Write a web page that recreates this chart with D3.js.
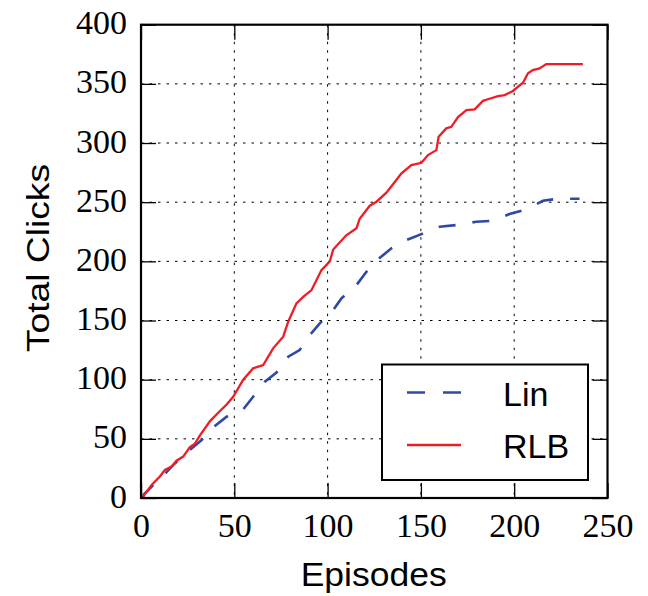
<!DOCTYPE html>
<html>
<head>
<meta charset="utf-8">
<script src="https://cdn.jsdelivr.net/npm/d3@7"></script>
<style>
  body { margin: 0; background: #fff; }
  .grid line { stroke: #000; stroke-width: 1; stroke-dasharray: 2.5,6; }
</style>
</head>
<body>
<div id="chart"></div>
<script>
var rlbEpisodes = [1, 1.5, 5.7, 10, 12.8, 16.4, 19, 22.6, 26.2, 28.9, 31.6, 37, 42.3, 45.9, 49.4, 54.8, 60.1, 65.5, 70.8, 76.2, 78.9, 83.3, 86.9, 91.4, 96.7, 101.2, 103, 110, 115.5, 117.2, 122.6, 126.2, 131.5, 136, 139.6, 144.9, 150.3, 153.8, 158.3, 159.5, 163.6, 166.3, 169.9, 174.4, 178.8, 183.3, 185.9, 191.3, 194.9, 199.3, 204.7, 207.4, 210, 213.6, 217.2, 236.8];
var rlbClicks   = [0, 2, 11, 18, 23.7, 26.5, 31.5, 35, 43, 46, 53, 65, 73.5, 79, 85.6, 100, 109.6, 112.4, 126.5, 136.3, 149, 164.5, 170, 175.7, 192.6, 200, 210, 222, 228, 236, 247, 250.4, 258, 267, 274.4, 281.4, 283.3, 289.8, 294, 305.3, 312.4, 313.7, 322, 327.8, 328.4, 335.7, 337, 339.7, 340.5, 344, 351, 359, 361.6, 363, 366.7, 366.7];

var linEpisodes = [1, 1.5, 6, 13.8, 17.3, 26.2, 32.5, 39.6, 45.9, 54.8, 60.1, 66.4, 72.6, 78.9, 85, 90.5, 95.8, 103, 107.4, 115.5, 120.8, 128, 134.2, 142.2, 150.3, 160, 169, 179.7, 188.6, 197.5, 206.5, 215.4, 223.4, 235];
var linClicks   = [0, 3, 10, 22, 28, 40.6, 49, 60.8, 68.7, 75, 85.6, 98.3, 106, 119.4, 125, 137.7, 147.6, 158.8, 168.7, 180, 191.2, 203, 211, 218, 223, 229.2, 230.7, 233.5, 234.3, 240, 244, 251.2, 252.9, 252.9];

var xTicks = [0, 50, 100, 150, 200, 250];
var yTicks = [0, 50, 100, 150, 200, 250, 300, 350, 400];
var seriesNames = ['Lin', 'RLB'];

var W = 648, H = 596,
    margin = {top: 24.7, right: 40.5, bottom: 98, left: 141},
    width = W - margin.left - margin.right,
    height = H - margin.top - margin.bottom;

var serif = '"Liberation Serif", "Times New Roman", serif',
    sans = '"Liberation Sans", Arial, sans-serif';

var svg = d3.select('#chart').append('svg')
    .attr('width', W).attr('height', H);

var g = svg.append('g')
    .attr('transform', 'translate(' + margin.left + ',' + margin.top + ')');

var x = d3.scaleLinear().domain([0, 250]).range([0, width]),
    y = d3.scaleLinear().domain([0, 400]).range([height, 0]);

// grid
g.append('g').attr('class', 'grid')
    .selectAll('line').data(xTicks.slice(1, -1)).enter().append('line')
    .attr('x1', x).attr('x2', x).attr('y1', 0).attr('y2', height);
g.append('g').attr('class', 'grid')
    .selectAll('line').data(yTicks.slice(1, -1)).enter().append('line')
    .attr('y1', y).attr('y2', y).attr('x1', 0).attr('x2', width);

// curves
var line = d3.line()
    .x(function (d) { return x(d[0]); })
    .y(function (d) { return y(d[1]); });

var linData = linEpisodes.map(function (e, i) { return [e, linClicks[i]]; }),
    rlbData = rlbEpisodes.map(function (e, i) { return [e, rlbClicks[i]]; });

g.append('path').datum(linData)
    .attr('d', line)
    .attr('fill', 'none')
    .attr('stroke', '#2f48a8')
    .attr('stroke-width', 2.6)
    .attr('stroke-dasharray', '17,17');

g.append('path').datum(rlbData)
    .attr('d', line)
    .attr('fill', 'none')
    .attr('stroke', '#ee1c25')
    .attr('stroke-width', 2.3);

// ticks on all four sides, pointing in
var tickLen = 15;
function tickAxis(axis, tr) {
    var a = g.append('g').attr('transform', tr).call(axis);
    a.select('.domain').remove();
    a.selectAll('.tick line').attr('stroke', '#000').attr('stroke-width', 1.3);
    return a;
}
var bottom = tickAxis(d3.axisBottom(x).tickValues(xTicks).tickSize(-tickLen), 'translate(0,' + height + ')');
tickAxis(d3.axisTop(x).tickValues(xTicks).tickSize(-tickLen).tickFormat(''), 'translate(0,0)');
var left = tickAxis(d3.axisLeft(y).tickValues(yTicks).tickSize(-tickLen).tickPadding(14), 'translate(0,0)');
tickAxis(d3.axisRight(y).tickValues(yTicks).tickSize(-tickLen).tickFormat(''), 'translate(' + width + ',0)');

bottom.selectAll('text')
    .attr('font-family', serif).attr('font-size', 34).attr('fill', '#000')
    .attr('y', 39).attr('dy', 0);
left.selectAll('text')
    .attr('font-family', serif).attr('font-size', 34).attr('fill', '#000')
    .attr('dy', 9);

// frame
g.append('rect')
    .attr('width', width).attr('height', height)
    .attr('fill', 'none').attr('stroke', '#000').attr('stroke-width', 2.2);

// axis labels
svg.append('text')
    .attr('x', 373.7).attr('y', 586)
    .attr('text-anchor', 'middle')
    .attr('font-family', sans).attr('font-size', 33.5)
    .attr('textLength', 146).attr('lengthAdjust', 'spacingAndGlyphs')
    .text('Episodes');
svg.append('text')
    .attr('transform', 'translate(49,258) rotate(-90)')
    .attr('text-anchor', 'middle')
    .attr('font-family', sans).attr('font-size', 31.5)
    .attr('textLength', 188).attr('lengthAdjust', 'spacingAndGlyphs')
    .text('Total Clicks');

// legend
var lg = svg.append('g').attr('transform', 'translate(382,364.5)');
lg.append('rect')
    .attr('width', 206).attr('height', 115.5)
    .attr('fill', '#fff').attr('stroke', '#000').attr('stroke-width', 2);
var legendStyles = [
    {color: '#2f48a8', dash: '18,18', w: 2.6},
    {color: '#ee1c25', dash: null, w: 2.3}
];
seriesNames.forEach(function (name, i) {
    var yy = 28 + i * 52.5;
    lg.append('line')
        .attr('x1', 25).attr('x2', 79).attr('y1', yy).attr('y2', yy)
        .attr('stroke', legendStyles[i].color)
        .attr('stroke-width', legendStyles[i].w)
        .attr('stroke-dasharray', legendStyles[i].dash);
    lg.append('text')
        .attr('x', 121).attr('y', yy + 13)
        .attr('font-family', sans).attr('font-size', 34)
        .text(name);
});
</script>
</body>
</html>
